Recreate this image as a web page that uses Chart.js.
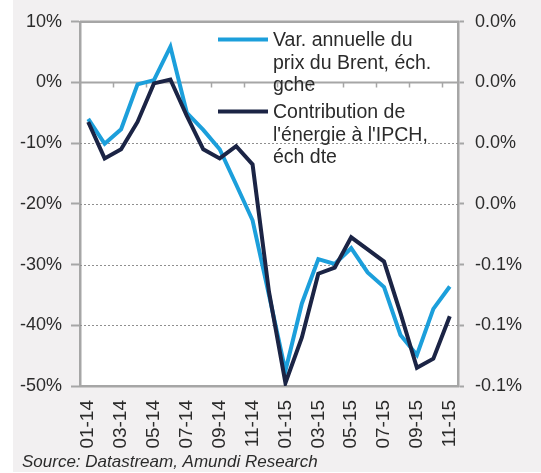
<!DOCTYPE html>
<html>
<head>
<meta charset="utf-8">
<script src="https://cdn.jsdelivr.net/npm/chart.js@4/dist/chart.umd.min.js"></script>
<style>
  html, body { margin: 0; padding: 0; background: #ffffff; }
  #wrap { width: 541px; height: 473px; position: relative; }
</style>
</head>
<body>
<div id="wrap"><canvas id="c" width="541" height="473"></canvas></div>
<script>
// ---- data ----
const categories = ["01-14","02-14","03-14","04-14","05-14","06-14","07-14","08-14","09-14","10-14","11-14","12-14",
                    "01-15","02-15","03-15","04-15","05-15","06-15","07-15","08-15","09-15","10-15","11-15"];
// Var. annuelle du prix du Brent (%), left axis
const brentYoY = [-6.0, -10.1, -7.7, -0.3, 0.4, 5.9, -5.0, -7.8, -11.0, -16.8, -22.7, -35.0,
                  -47.5, -36.4, -29.1, -29.9, -27.3, -31.3, -33.7, -41.6, -44.9, -37.3, -33.6];
// Contribution de l'énergie à l'IPCH (%), right axis
const energyContrib = [-0.013, -0.025, -0.022, -0.013, -0.0003, 0.001, -0.011, -0.022, -0.025, -0.021, -0.027, -0.069,
                       -0.099, -0.084, -0.063, -0.061, -0.051, -0.055, -0.059, -0.076, -0.094, -0.091, -0.077];
const seriesNames = ["Var. annuelle du prix du Brent, éch. gche", "Contribution de l'énergie à l'IPCH, éch dte"];
const legendLines = [["Var. annuelle du", "prix du Brent, éch.", "gche"],
                     ["Contribution de", "l'énergie à l'IPCH,", "éch dte"]];
const leftAxis = { min: -50, max: 10, step: 10 };
const rightAxis = { min: -0.10, max: 0.02, step: 0.02 };
const sourceText = "Source: Datastream, Amundi Research";

// ---- styles ----
const FONT = "'Liberation Sans', Arial, Helvetica, sans-serif";
const BLUE = "#1c9fdb";
const NAVY = "#1b2445";
const AXIS_GREY = "#a6a6a6";
const GRID_GREY = "#8f8f8f";
const BG_GREY = "#f2f0f1";
const TEXT = "#2b2b2b";

Chart.defaults.font.family = FONT;
Chart.defaults.color = TEXT;

const backgroundPlugin = {
  id: "bg",
  beforeDraw(chart) {
    const { ctx, chartArea: a } = chart;
    ctx.save();
    ctx.fillStyle = "#ffffff";
    ctx.fillRect(0, 0, chart.width, chart.height);
    ctx.fillStyle = BG_GREY;
    ctx.fillRect(13, 0, chart.width - 13, 472);
    ctx.fillStyle = "#ffffff";
    ctx.fillRect(a.left, a.top, a.right - a.left, a.bottom - a.top);
    ctx.restore();
  },
  beforeDatasetsDraw(chart) {
    const { ctx, chartArea: a } = chart;
    const yL = chart.scales.y;
    const xs = chart.scales.x;
    ctx.save();
    // dotted gridlines
    ctx.strokeStyle = GRID_GREY;
    ctx.lineWidth = 1;
    ctx.setLineDash([2, 2]);
    yL.ticks.forEach(t => {
      if (t.value === 0 || t.value === leftAxis.min || t.value === leftAxis.max) return;
      const y = Math.round(yL.getPixelForValue(t.value)) + 0.5;
      ctx.beginPath(); ctx.moveTo(a.left, y); ctx.lineTo(a.right, y); ctx.stroke();
    });
    ctx.setLineDash([]);
    // top border
    ctx.strokeStyle = AXIS_GREY;
    ctx.lineWidth = 2.5;
    ctx.beginPath(); ctx.moveTo(a.left, a.top); ctx.lineTo(a.right + 1, a.top); ctx.stroke();
    // zero line with category tick marks
    const y0 = yL.getPixelForValue(0);
    ctx.lineWidth = 2;
    ctx.beginPath(); ctx.moveTo(a.left, y0); ctx.lineTo(a.right, y0); ctx.stroke();
    ctx.lineWidth = 1.5;
    for (let k = 2; k < categories.length; k += 2) {
      const x = Math.round((xs.getPixelForValue(k - 1) + xs.getPixelForValue(k)) / 2) + 0.5;
      ctx.beginPath(); ctx.moveTo(x, y0); ctx.lineTo(x, y0 + 5); ctx.stroke();
    }
    ctx.restore();
  },
  afterDraw(chart) {
    const { ctx, chartArea: a } = chart;
    ctx.save();
    // legend
    const colors = [BLUE, NAVY];
    const starts = [46, 118];
    ctx.font = "19.5px " + FONT;
    ctx.textBaseline = "alphabetic";
    ctx.textAlign = "left";
    legendLines.forEach((lines, i) => {
      const base = starts[i];
      ctx.strokeStyle = colors[i];
      ctx.lineWidth = 4;
      ctx.beginPath(); ctx.moveTo(a.left + 138, base - 6.5); ctx.lineTo(a.left + 188, base - 6.5); ctx.stroke();
      ctx.fillStyle = TEXT;
      lines.forEach((ln, j) => ctx.fillText(ln, a.left + 193, base + j * 22.5));
    });
    // source
    ctx.font = "italic 17px " + FONT;
    ctx.fillStyle = TEXT;
    ctx.fillText(sourceText, 22, 467);
    ctx.restore();
  }
};

new Chart(document.getElementById("c"), {
  type: "line",
  data: {
    labels: categories,
    datasets: [
      { label: seriesNames[0], data: brentYoY, yAxisID: "y", borderColor: BLUE, backgroundColor: BLUE,
        borderWidth: 4, pointRadius: 0, tension: 0, order: 2 },
      { label: seriesNames[1], data: energyContrib, yAxisID: "y2", borderColor: NAVY, backgroundColor: NAVY,
        borderWidth: 4, pointRadius: 0, tension: 0, order: 1 }
    ]
  },
  options: {
    responsive: false,
    devicePixelRatio: 1,
    animation: false,
    layout: { padding: { top: 20, left: 0, right: 0, bottom: 0 } },
    plugins: { legend: { display: false }, tooltip: { enabled: false }, title: { display: false } },
    scales: {
      x: {
        type: "category",
        offset: true,
        grid: { display: false, drawTicks: false, tickLength: 0 },
        border: { display: true, color: AXIS_GREY, width: 2.5 },
        ticks: {
          autoSkip: false, minRotation: 90, maxRotation: 90, padding: 14,
          font: { size: 19 }, color: TEXT,
          callback(v, i) { return i % 2 === 0 ? this.getLabelForValue(v) : ""; }
        },
        afterFit(s) { s.height = 87; }
      },
      y: {
        position: "left",
        min: leftAxis.min, max: leftAxis.max,
        grid: { drawOnChartArea: false, drawTicks: true, tickLength: 9, tickWidth: 2, tickColor: AXIS_GREY },
        border: { display: true, color: AXIS_GREY, width: 2.5 },
        ticks: { stepSize: leftAxis.step, padding: 9, font: { size: 18 }, color: TEXT,
                 callback: v => v + "%" },
        afterFit(s) { s.width = 80; }
      },
      y2: {
        position: "right",
        min: rightAxis.min, max: rightAxis.max,
        grid: { drawOnChartArea: false, drawTicks: true, tickLength: 6, tickWidth: 2, tickColor: AXIS_GREY },
        border: { display: true, color: AXIS_GREY, width: 2.5 },
        ticks: { stepSize: rightAxis.step, padding: 11, font: { size: 18 }, color: TEXT,
                 callback: v => (Math.abs(v) < 0.05 ? "0.0" : v.toFixed(1)) + "%" },
        afterFit(s) { s.width = 83; }
      }
    }
  },
  plugins: [backgroundPlugin]
});
</script>
</body>
</html>
